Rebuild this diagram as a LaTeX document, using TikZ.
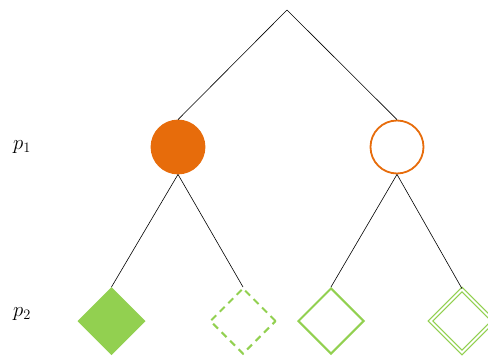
\documentclass[tikz,border=0pt]{standalone}
\usetikzlibrary{shapes.geometric}
\definecolor{orng}{RGB}{231,108,11}
\definecolor{grn}{RGB}{146,208,80}
\begin{document}
\begin{tikzpicture}[x=1pt,y=-1pt,
  edge/.style={line width=0.6pt, black},
  dot/.style={circle, minimum size=53pt, inner sep=0pt, line width=1.8pt, draw=orng},
  dia/.style={diamond, minimum width=66pt, minimum height=66pt, inner sep=0pt, line width=2pt, draw=grn},
  lbl/.style={font=\fontsize{20}{24}\selectfont, inner sep=0pt}]
\useasboundingbox (0,0) rectangle (488,356);
\clip (0,0) rectangle (488,356);
\coordinate (r) at (287,10);
\node[dot, fill=orng] (a) at (178,147) {};
\node[dot] (b) at (397,147) {};
\node[dia, fill=grn] (c1) at (111.5,321) {};
\node[dia, dash pattern=on 7pt off 5pt] (c2) at (243,321) {};
\node[dia] (c3) at (331,321) {};
\node[diamond, minimum width=63.5pt, minimum height=63.5pt, inner sep=0pt, draw=grn, line width=1.2pt, double=white, double distance=2pt] (c4) at (462,321) {};
\node[lbl] (p1) at (22,147) {$p_1$};
\node[lbl] (p2) at (22,314) {$p_2$};
\draw[edge] (r) -- (a.north);
\draw[edge] (r) -- (b.north);
\draw[edge] (a.south) -- (c1.north);
\draw[edge] (a.south) -- (c2.north);
\draw[edge] (b.south) -- (c3.north);
\draw[edge] (b.south) -- (c4.north);
\end{tikzpicture}
\end{document}
